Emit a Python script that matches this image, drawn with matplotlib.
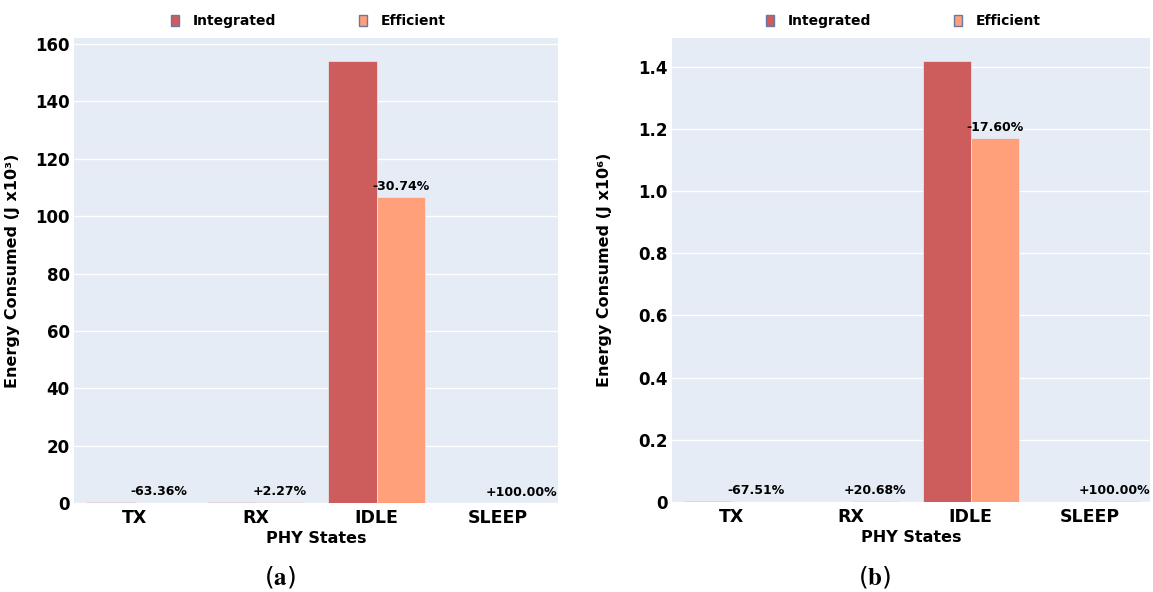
import matplotlib.pyplot as plt
import numpy as np
from matplotlib.patches import Patch

#============================================================
# Datos
#============================================================

estados = ['TX', 'RX', 'IDLE', 'SLEEP']

integrado_a = [0.45, 0.35, 154.0, 0.0]
eficiente_a = [0.165, 0.358, 106.7, 0.04]
porcentaje_a = ['-63.36%', '+2.27%', '-30.74%', '+100.00%']
ticks_a = [0, 20, 40, 60, 80, 100, 120, 140, 160]
etiquetas_a = ['0', '20', '40', '60', '80', '100', '120', '140', '160']

integrado_b = [0.004, 0.0015, 1.42, 0.0]
eficiente_b = [0.0013, 0.0018, 1.17, 0.002]
porcentaje_b = ['-67.51%', '+20.68%', '-17.60%', '+100.00%']
ticks_b = [0, 0.2, 0.4, 0.6, 0.8, 1.0, 1.2, 1.4]
etiquetas_b = ['0', '0.2', '0.4', '0.6', '0.8', '1.0', '1.2', '1.4']

color_int = '#CD5C5C'
color_efi = '#FFA07A'
fondo = '#E5ECF6'

plt.rcParams['font.family'] = 'DejaVu Sans'
plt.rcParams['mathtext.fontset'] = 'stix'

fig = plt.figure(figsize=(11.53, 5.92), dpi=100)


def panel(rect, integ, efi, textos, ylim, yticks, ylabels, ylabel, letra, ycap_x):
    ax = fig.add_axes(rect)
    ax.set_facecolor(fondo)
    x = np.arange(len(estados))
    w = 0.4
    ax.bar(x - w / 2, integ, w, color=color_int, edgecolor=fondo, linewidth=0.5, zorder=3)
    ax.bar(x + w / 2, efi, w, color=color_efi, edgecolor=fondo, linewidth=0.5, zorder=3)
    for xi, v, t in zip(x, efi, textos):
        ax.annotate(t, (xi + w / 2, v), xytext=(0, 3), textcoords='offset points',
                    ha='center', va='bottom', fontsize=9, fontweight='bold', zorder=4)
    ax.set_xlim(-0.5, 3.5)
    ax.set_ylim(*ylim)
    ax.set_yticks(yticks)
    ax.set_yticklabels(ylabels, fontweight='bold', fontsize=12)
    ax.grid(axis='y', color='white', linewidth=1, zorder=0)
    ax.set_axisbelow(True)
    for s in ax.spines.values():
        s.set_visible(False)
    ax.tick_params(length=0)
    ax.tick_params(axis='y', pad=3)
    ax.tick_params(axis='x', pad=4)
    ax.set_xticks(x)
    ax.set_xticklabels(estados, fontweight='bold', fontsize=12.5)
    ax.set_xlabel('PHY States', fontweight='bold', fontsize=11.5, labelpad=3)
    ax.set_ylabel(ylabel, fontweight='bold', fontsize=11.5)
    ax.yaxis.set_label_coords(ycap_x, 0.5)
    handles = [Patch(facecolor=color_int, edgecolor='#6878A0', linewidth=1.0, label='Integrated'),
               Patch(facecolor=color_efi, edgecolor='#6878A0', linewidth=1.0, label='Efficient')]
    ax.legend(handles=handles, ncol=2, loc='lower center', bbox_to_anchor=(0.484, 1.0),
              frameon=False, prop={'weight': 'bold', 'size': 10}, handlelength=0.55,
              handleheight=0.75, handletextpad=1.0, columnspacing=6.0, borderaxespad=0.3)
    cx = rect[0] + rect[2] * 0.425
    fig.text(cx, 0.025, r'($\mathbf{' + letra + '}$)', ha='center', va='center', fontsize=18)
    return ax


panel([0.0642, 0.1503, 0.4198, 0.7855], integrado_a, eficiente_a, porcentaje_a,
      (0, 162.1), ticks_a, etiquetas_a, 'Energy Consumed (J x10³)', 'a', -0.112)
panel([0.5828, 0.1520, 0.4146, 0.7838], integrado_b, eficiente_b, porcentaje_b,
      (0, 1.4925), ticks_b, etiquetas_b, 'Energy Consumed (J x10⁶)', 'b', -0.125)

fig.savefig('out.png', dpi=100)
